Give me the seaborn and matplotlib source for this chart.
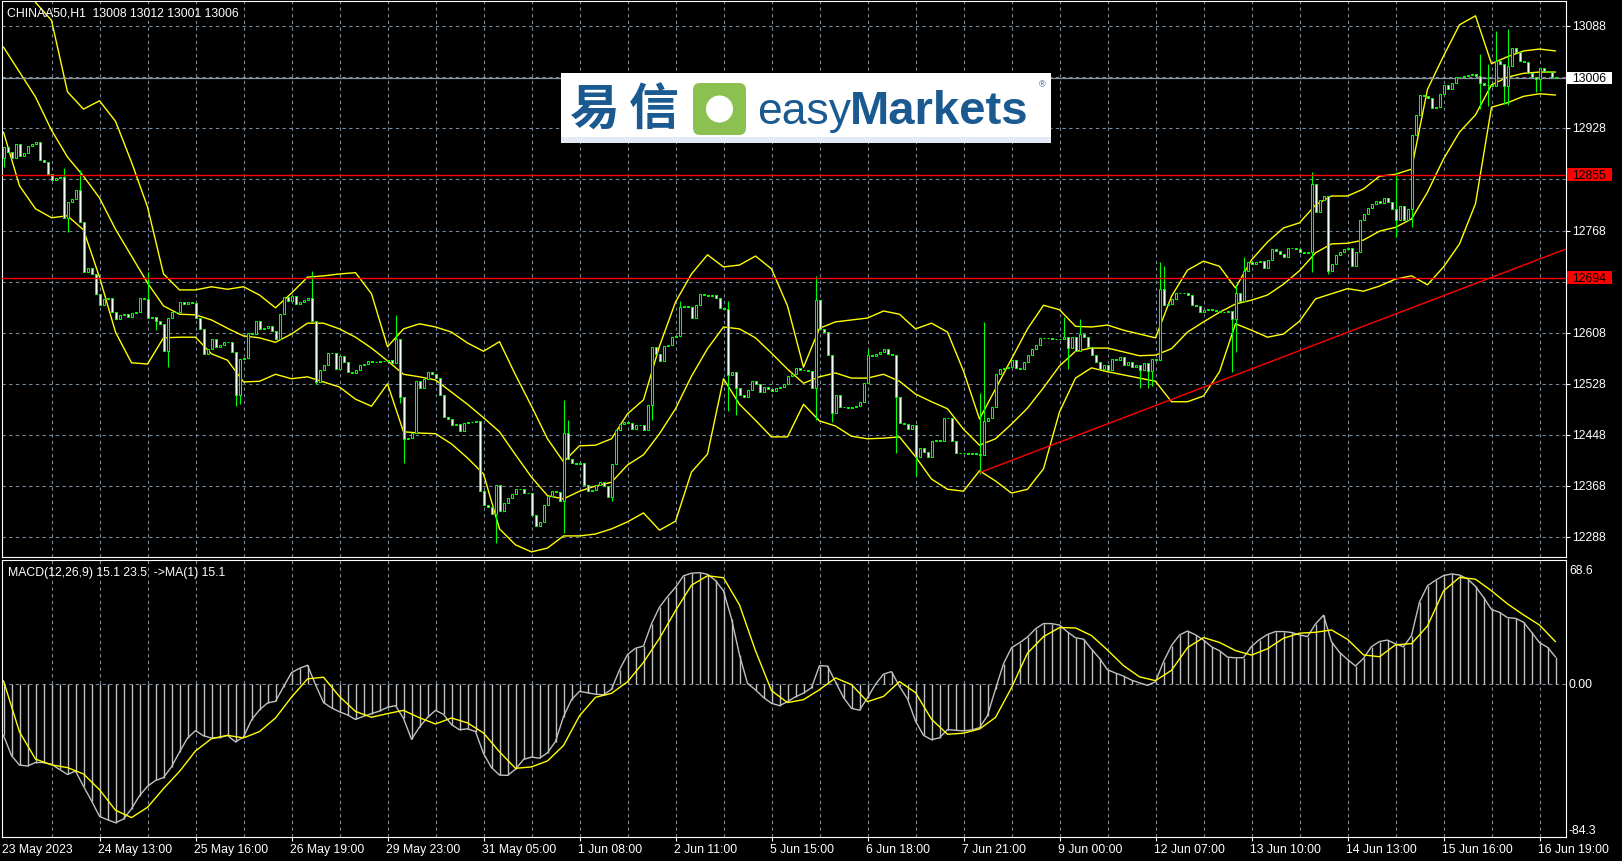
import numpy as np
import matplotlib
matplotlib.use('Agg')
import matplotlib.pyplot as plt
import seaborn as sns
from matplotlib.patches import Rectangle, FancyBboxPatch, Circle

sns.set_theme(style='dark')
plt.rcParams['font.family'] = ['Liberation Sans', 'DejaVu Sans']

# ---- CHINAA50 H1 closes, one value per bar (389 bars)
first_open = 12881
close = [
    12899, 12891, 12881, 12903, 12885, 12890, 12901, 12904, 12906, 12878, 12876, 12857,
    12847, 12850, 12851, 12787, 12813, 12818, 12831, 12782, 12703, 12709, 12700, 12669,
    12652, 12661, 12663, 12640, 12630, 12636, 12638, 12632, 12639, 12641, 12662, 12661,
    12631, 12632, 12627, 12622, 12580, 12631, 12640, 12640, 12656, 12653, 12656, 12654,
    12631, 12614, 12575, 12582, 12598, 12585, 12589, 12593, 12594, 12578, 12510, 12567,
    12569, 12608, 12606, 12626, 12614, 12615, 12618, 12610, 12598, 12638, 12664, 12657,
    12666, 12653, 12656, 12660, 12663, 12627, 12531, 12549, 12558, 12576, 12577, 12552,
    12572, 12562, 12546, 12545, 12550, 12557, 12559, 12563, 12562, 12562, 12563, 12563,
    12565, 12561, 12598, 12508, 12441, 12443, 12451, 12532, 12521, 12536, 12546, 12544,
    12537, 12511, 12476, 12473, 12464, 12465, 12454, 12466, 12468, 12469, 12470, 12360,
    12339, 12335, 12324, 12370, 12329, 12342, 12349, 12356, 12364, 12364, 12357, 12357,
    12322, 12305, 12312, 12339, 12352, 12360, 12359, 12344, 12451, 12411, 12404, 12402,
    12404, 12370, 12361, 12362, 12370, 12375, 12368, 12351, 12402, 12456, 12465, 12468,
    12467, 12458, 12464, 12463, 12456, 12495, 12585, 12574, 12564, 12587, 12589, 12602,
    12603, 12649, 12650, 12649, 12631, 12651, 12668, 12667, 12666, 12667, 12663, 12647,
    12645, 12542, 12546, 12521, 12511, 12508, 12519, 12532, 12527, 12516, 12523, 12520,
    12517, 12521, 12523, 12528, 12541, 12543, 12553, 12550, 12549, 12548, 12522, 12659,
    12614, 12609, 12573, 12482, 12510, 12492, 12491, 12490, 12491, 12494, 12499, 12529,
    12573, 12572, 12575, 12578, 12582, 12574, 12573, 12508, 12466, 12465, 12458, 12463,
    12413, 12427, 12422, 12413, 12439, 12440, 12438, 12475, 12474, 12439, 12419, 12420,
    12419, 12418, 12419, 12418, 12417, 12470, 12474, 12491, 12544, 12552, 12553, 12554,
    12565, 12553, 12552, 12562, 12573, 12582, 12589, 12599, 12600, 12600, 12598, 12598,
    12598, 12601, 12584, 12601, 12579, 12606, 12601, 12586, 12573, 12562, 12551, 12558,
    12549, 12567, 12566, 12570, 12558, 12562, 12554, 12557, 12549, 12561, 12548, 12567,
    12566, 12676, 12652, 12653, 12661, 12670, 12670, 12670, 12667, 12652, 12650, 12641,
    12644, 12645, 12643, 12642, 12641, 12640, 12642, 12629, 12670, 12658, 12705, 12719,
    12716, 12718, 12721, 12710, 12722, 12739, 12736, 12731, 12726, 12740, 12741, 12739,
    12734, 12733, 12734, 12841, 12797, 12815, 12822, 12705, 12716, 12730, 12734, 12739,
    12740, 12713, 12734, 12785, 12794, 12803, 12810, 12814, 12811, 12819, 12812, 12801,
    12784, 12806, 12784, 12802, 12918, 12948, 12980, 12979, 12976, 12959, 12962, 12982,
    12995, 12990, 12999, 13008, 13009, 13010, 13011, 13013, 13010, 12999, 12995, 12995,
    12994, 13034, 13029, 12994, 13025, 13053, 13047, 13034, 13031, 13015, 13009, 13005,
    13022, 13018, 13016, 13009, 13006,
]
# wicks that stick out beyond the candle bodies
wick_hi = {15: 12866, 19: 12862, 36: 12703, 77: 12705, 98: 12636, 140: 12503,
           141: 12472, 169: 12657, 181: 12657, 203: 12697, 216: 12583, 244: 12514,
           245: 12625, 265: 12632, 269: 12630, 289: 12718, 290: 12712, 308: 12682,
           310: 12727, 327: 12859, 348: 12859, 369: 13044, 371: 13029, 373: 13081,
           376: 13083}
wick_lo = {0: 12868, 16: 12765, 38: 12612, 41: 12554, 58: 12494, 59: 12497,
           78: 12528, 99: 12498, 100: 12404, 123: 12279, 140: 12295, 152: 12344,
           162: 12472, 181: 12485, 183: 12480, 203: 12471, 207: 12469, 223: 12419,
           228: 12383, 244: 12387, 266: 12552, 284: 12521, 286: 12521, 287: 12525,
           307: 12547, 308: 12578, 327: 12703, 331: 12700, 348: 12758, 352: 12773,
           369: 12958, 371: 12963, 375: 12966, 376: 12964, 383: 12985, 384: 12987}

# Bollinger bands (20, 2), read every 4th bar
bb_upper = [
    13330, 13220, 13125, 13097, 12985, 12958, 12971, 12939, 12875, 12805, 12700, 12675,
    12675, 12680, 12676, 12680, 12667, 12647, 12670, 12695, 12697, 12700, 12702, 12669,
    12586, 12614, 12622, 12617, 12609, 12592, 12579, 12594, 12542, 12493, 12442, 12406,
    12431, 12432, 12442, 12481, 12503, 12587, 12656, 12700, 12730, 12711, 12714, 12728,
    12708, 12650, 12554, 12615, 12625, 12628, 12631, 12642, 12637, 12614, 12623, 12609,
    12548, 12473, 12520, 12567, 12614, 12651, 12644, 12618, 12617, 12620, 12612, 12606,
    12600, 12665, 12706, 12720, 12712, 12678, 12722, 12750, 12772, 12780, 12808, 12822,
    12822, 12833, 12853, 12856, 12864, 12989, 13041, 13090, 13104, 13029, 13040, 13049,
    13052, 13049,
]
bb_mid = [
    13055, 13016, 12977, 12925, 12883, 12853, 12819, 12770, 12728, 12686, 12650, 12637,
    12636, 12628, 12615, 12603, 12600, 12593, 12606, 12623, 12623, 12614, 12601, 12584,
    12564, 12543, 12539, 12534, 12515, 12496, 12475, 12453, 12417, 12382, 12353, 12348,
    12360, 12368, 12374, 12401, 12417, 12450, 12489, 12540, 12583, 12617, 12614, 12600,
    12576, 12551, 12529, 12539, 12545, 12537, 12537, 12543, 12532, 12512, 12500, 12489,
    12457, 12432, 12442, 12465, 12490, 12522, 12556, 12579, 12584, 12584, 12578, 12572,
    12573, 12583, 12609, 12625, 12640, 12653, 12659, 12667, 12684, 12705, 12733, 12747,
    12748, 12753, 12767, 12773, 12786, 12828, 12880, 12922, 12949, 12996, 13008, 13014,
    13016, 13016,
]
bb_lower = [
    12922, 12838, 12802, 12788, 12791, 12769, 12695, 12609, 12561, 12559, 12600, 12601,
    12601, 12575, 12565, 12531, 12532, 12543, 12536, 12539, 12531, 12523, 12504, 12493,
    12528, 12453, 12451, 12450, 12434, 12412, 12387, 12301, 12276, 12265, 12271, 12290,
    12290, 12293, 12301, 12312, 12326, 12299, 12313, 12390, 12418, 12536, 12496, 12471,
    12445, 12445, 12496, 12470, 12462, 12446, 12442, 12443, 12445, 12414, 12379, 12363,
    12360, 12392, 12376, 12357, 12363, 12395, 12484, 12537, 12553, 12547, 12542, 12537,
    12532, 12500, 12500, 12509, 12547, 12622, 12612, 12601, 12606, 12626, 12661, 12669,
    12677, 12673, 12681, 12692, 12697, 12683, 12711, 12747, 12810, 12961, 12968, 12978,
    12982, 12980,
]

# MACD(12,26,9): main line read every 2nd bar, signal every 4th bar
macd_main = [
    -28.2, -39.4, -44.6, -45.1, -43.2, -43.2, -44.1, -47.0, -49.8, -47.9, -56.3, -64.3,
    -72.9, -74.8, -76.4, -74.4, -68.7, -61.5, -56.3, -53.1, -51.5, -45.6, -37.4, -29.7,
    -25.6, -28.4, -29.7, -29.4, -28.2, -31.8, -29.1, -19.7, -14.1, -10.3, -9.4, -1.4,
    6.4, 8.8, 10.5, -0.2, -10.1, -13.0, -15.2, -16.9, -19.4, -17.7, -16.2, -14.8,
    -12.7, -11.8, -18.8, -30.4, -23.6, -18.3, -14.4, -16.6, -22.3, -25.1, -24.6, -26.1,
    -38.2, -46.0, -50.1, -50.3, -46.9, -41.5, -40.2, -40.8, -37.8, -31.6, -17.8, -8.5,
    -3.9, -4.7, -5.5, -5.8, -2.8, 8.0, 16.4, 19.9, 21.1, 33.4, 42.6, 48.4,
    53.5, 59.9, 61.3, 61.6, 60.7, 57.3, 51.5, 36.2, 16.2, 0.5, -3.1, -7.3,
    -10.5, -11.8, -9.6, -6.9, -4.9, -1.9, 10.3, 10.0, 1.3, -7.3, -13.3, -14.3,
    -7.4, 0.0, 5.6, 7.0, -1.2, -8.1, -20.3, -28.2, -30.6, -29.5, -25.0, -25.4,
    -25.7, -25.2, -24.0, -17.3, -2.6, 11.3, 20.2, 22.9, 26.1, 30.6, 33.5, 33.5,
    32.7, 28.9, 25.7, 24.9, 19.4, 14.3, 8.0, 6.2, 4.5, 2.3, 0.8, -0.6,
    1.4, 12.5, 21.4, 27.2, 29.4, 27.3, 24.4, 20.7, 18.5, 15.0, 14.6, 14.7,
    20.9, 24.7, 27.5, 29.1, 29.1, 28.6, 27.3, 26.3, 33.3, 38.1, 23.5, 17.6,
    13.7, 10.1, 14.3, 20.8, 23.6, 24.4, 22.3, 20.7, 26.9, 45.4, 54.4, 57.4,
    60.0, 60.9, 60.3, 58.2, 54.0, 48.0, 41.3, 39.7, 36.8, 36.4, 34.3, 28.8,
    23.0, 20.4, 15.1,
]
macd_signal = [
    1.9, -26.3, -41.3, -44.5, -46.0, -49.5, -58.2, -69.5, -73.6, -67.9, -57.6, -48.1,
    -36.8, -30.0, -28.2, -29.6, -26.1, -18.6, -7.1, 3.0, 3.9, -6.8, -15.0, -18.2,
    -16.2, -14.4, -18.5, -21.9, -18.6, -21.3, -26.9, -37.3, -46.4, -45.6, -42.3, -33.8,
    -17.4, -7.2, -5.0, 1.4, 12.1, 25.4, 40.6, 54.7, 59.9, 58.8, 43.8, 18.5,
    -3.5, -10.1, -8.5, -3.0, 3.5, -0.2, -9.6, -6.7, 1.5, -4.6, -19.3, -27.6,
    -27.0, -24.7, -18.3, -1.9, 17.2, 26.3, 31.3, 31.1, 26.9, 18.9, 10.3, 4.1,
    2.0, 7.7, 20.2, 25.8, 23.1, 18.6, 16.1, 19.6, 25.4, 28.2, 28.7, 30.0,
    24.8, 16.2, 15.2, 21.8, 22.4, 32.2, 51.5, 59.0, 58.0, 51.6, 44.4, 38.3,
    32.7, 23.5,
]

time_labels = ['23 May 2023', '24 May 13:00', '25 May 16:00', '26 May 19:00',
               '29 May 23:00', '31 May 05:00', '1 Jun 08:00', '2 Jun 11:00',
               '5 Jun 15:00', '6 Jun 18:00', '7 Jun 21:00', '9 Jun 00:00',
               '12 Jun 07:00', '13 Jun 10:00', '14 Jun 13:00', '15 Jun 16:00',
               '16 Jun 19:00']
price_labels = [13088, 12928, 12768, 12608, 12528, 12448, 12368, 12288]
red_levels = [12855, 12694]
bid_price = 13006
trend_bar = [244, 390.6]
trend_price = [12389, 12739]

GREEN = '#00ff00'
YELLOW = '#ffff00'
SILVER = '#c0c0c0'
GRID = '#778899'
DASH = (0, (3, 3))

W, H = 1622, 862
fig = plt.figure(figsize=(W / 100, H / 100), dpi=100, facecolor='black')


def box(x0, y0, x1, y1):
    return [x0 / W, 1 - y1 / H, (x1 - x0) / W, (y1 - y0) / H]


ax = fig.add_axes(box(2, 2, 1566, 558))
axm = fig.add_axes(box(2, 561, 1566, 838))

n = len(close)
for a in (ax, axm):
    a.set_facecolor('black')
    a.set_xlim(-0.375, 390.625)
    for s in a.spines.values():
        s.set_color('white')
        s.set_linewidth(0.8)
    a.set_xticks(np.arange(12, n, 12))
    a.xaxis.grid(True, color=GRID, linestyle=DASH, linewidth=0.8)
    a.tick_params(length=0, labelbottom=False, labelleft=False)
    a.set_axisbelow(True)

# ---- price panel
ax.set_ylim(12257, 13127.2)
grid_prices = np.arange(12288, 13089, 80)
ax.set_yticks(grid_prices)
ax.yaxis.grid(True, color=GRID, linestyle=DASH, linewidth=0.8)

c = np.array(close, dtype=float)
o = np.r_[first_open, c[:-1]]
top = np.maximum(o, c)
bot = np.minimum(o, c)
hi = top.copy()
lo = bot.copy()
for k, v in wick_hi.items():
    hi[k] = v
for k, v in wick_lo.items():
    lo[k] = v
bars = np.arange(n)

bb_x = np.arange(len(bb_upper)) * 4
for band in (bb_upper, bb_mid, bb_lower):
    sns.lineplot(x=bb_x, y=band, ax=ax, color=YELLOW, linewidth=1.0, zorder=2)

ax.axhline(bid_price, color='#8a929a', linewidth=0.9, zorder=2.5)

ax.vlines(bars, lo, hi, color=GREEN, linewidth=0.8, zorder=3)
face = np.where(c < o, 'white', 'black')
ax.bar(bars, top - bot, bottom=bot, width=0.5, color=face, edgecolor=GREEN,
       linewidth=0.75, zorder=4)

for lvl in red_levels:
    ax.axhline(lvl, color='red', linewidth=1.0, zorder=5)
ax.plot(trend_bar, trend_price, color='red', linewidth=1.0, zorder=5)

ax.text(0.0032, 0.980, 'CHINAA50,H1  13008 13012 13001 13006', transform=ax.transAxes,
        color='white', fontsize=8.8, va='center', ha='left')

ytr = ax.get_yaxis_transform()
ax.hlines(grid_prices, 1.0, 1.0026, transform=ytr, color='white', linewidth=0.8, clip_on=False)
for p in price_labels:
    ax.text(1.0038, p, str(p), transform=ytr, color='white', fontsize=8.8,
            va='center', ha='left', clip_on=False)
ax.add_patch(Rectangle((1.0006, bid_price - 9.4), 0.0288, 18.8, transform=ytr,
                       facecolor='white', edgecolor='none', clip_on=False, zorder=6))
ax.text(1.015, bid_price, str(bid_price), transform=ytr, color='black', fontsize=8.8,
        va='center', ha='center', clip_on=False, zorder=7)
for lvl in red_levels:
    ax.add_patch(Rectangle((1.0006, lvl - 10.2), 0.0288, 20.4, transform=ytr,
                           facecolor='red', edgecolor='none', clip_on=False, zorder=6))
    ax.text(1.015, lvl, str(lvl), transform=ytr, color='black', fontsize=8.8,
            va='center', ha='center', clip_on=False, zorder=7)

# ---- MACD panel
axm.set_ylim(-84.3, 68.6)
axm.set_yticks([])
axm.axhline(0, color=GRID, linestyle=DASH, linewidth=0.8, zorder=1)
mx = np.arange(len(macd_main)) * 2
axm.vlines(mx, 0, macd_main, color=SILVER, linewidth=1.0, zorder=2)
sns.lineplot(x=mx, y=macd_main, ax=axm, color=SILVER, linewidth=1.0, zorder=3)
sx = np.arange(len(macd_signal)) * 4
sns.lineplot(x=sx, y=macd_signal, ax=axm, color=YELLOW, linewidth=1.0, zorder=4)
axm.set_xlabel('')
axm.set_ylabel('')
ax.set_xlabel('')
ax.set_ylabel('')

axm.text(0.0036, 0.958, 'MACD(12,26,9) 15.1 23.5  ->MA(1) 15.1', transform=axm.transAxes,
         color='white', fontsize=8.8, va='center', ha='left')
mtr = axm.get_yaxis_transform()
axm.text(1.0019, 0.965, '68.6', transform=axm.transAxes, color='white', fontsize=8.8,
         va='center', ha='left', clip_on=False)
axm.text(1.0019, 0, '0.00', transform=mtr, color='white', fontsize=8.8,
         va='center', ha='left', clip_on=False)
axm.text(1.0019, 0.025, '-84.3', transform=axm.transAxes, color='white', fontsize=8.8,
         va='center', ha='left', clip_on=False)

label_bars = np.arange(len(time_labels)) * 24
xtr = axm.get_xaxis_transform()
axm.vlines(label_bars[1:], -0.0145, 0, transform=xtr, color='white', linewidth=0.8,
           clip_on=False)
for b, lab in zip(label_bars, time_labels):
    axm.text(b - 0.25, -0.043, lab, transform=xtr, color='white', fontsize=8.8,
             va='center', ha='left', clip_on=False)

# ---- broker logo overlay (pixel coordinates)
ov = fig.add_axes([0, 0, 1, 1], zorder=10)
ov.set_xlim(0, W)
ov.set_ylim(H, 0)
ov.axis('off')
ov.patch.set_alpha(0)
BLUE = '#1b5a91'
ov.add_patch(Rectangle((561, 74), 490, 70, facecolor='white', edgecolor='none'))
ov.add_patch(Rectangle((561, 138), 490, 6, facecolor='#e4ebf6', edgecolor='none'))
ov.text(595, 110, '易', color=BLUE, fontsize=36, fontweight='bold', ha='center', va='center',
        family=['Noto Sans CJK SC', 'DejaVu Sans'])
ov.text(654, 110, '信', color=BLUE, fontsize=36, fontweight='bold', ha='center', va='center',
        family=['Noto Sans CJK SC', 'DejaVu Sans'])
ov.add_patch(FancyBboxPatch((693, 84), 53, 52, boxstyle='round,pad=0,rounding_size=7',
                            facecolor='#8cc152', edgecolor='none'))
ov.add_patch(Circle((719.5, 110), 13.5, facecolor='white', edgecolor='none'))
ov.text(757, 124, 'easy', color=BLUE, fontsize=32, ha='left', va='baseline')
ov.text(850, 124, 'Markets', color=BLUE, fontsize=34, fontweight='bold', ha='left', va='baseline')
ov.text(1042, 85, '®', color=BLUE, fontsize=6.5, ha='center', va='center')

fig.savefig('out.png', dpi=100, facecolor='black')
